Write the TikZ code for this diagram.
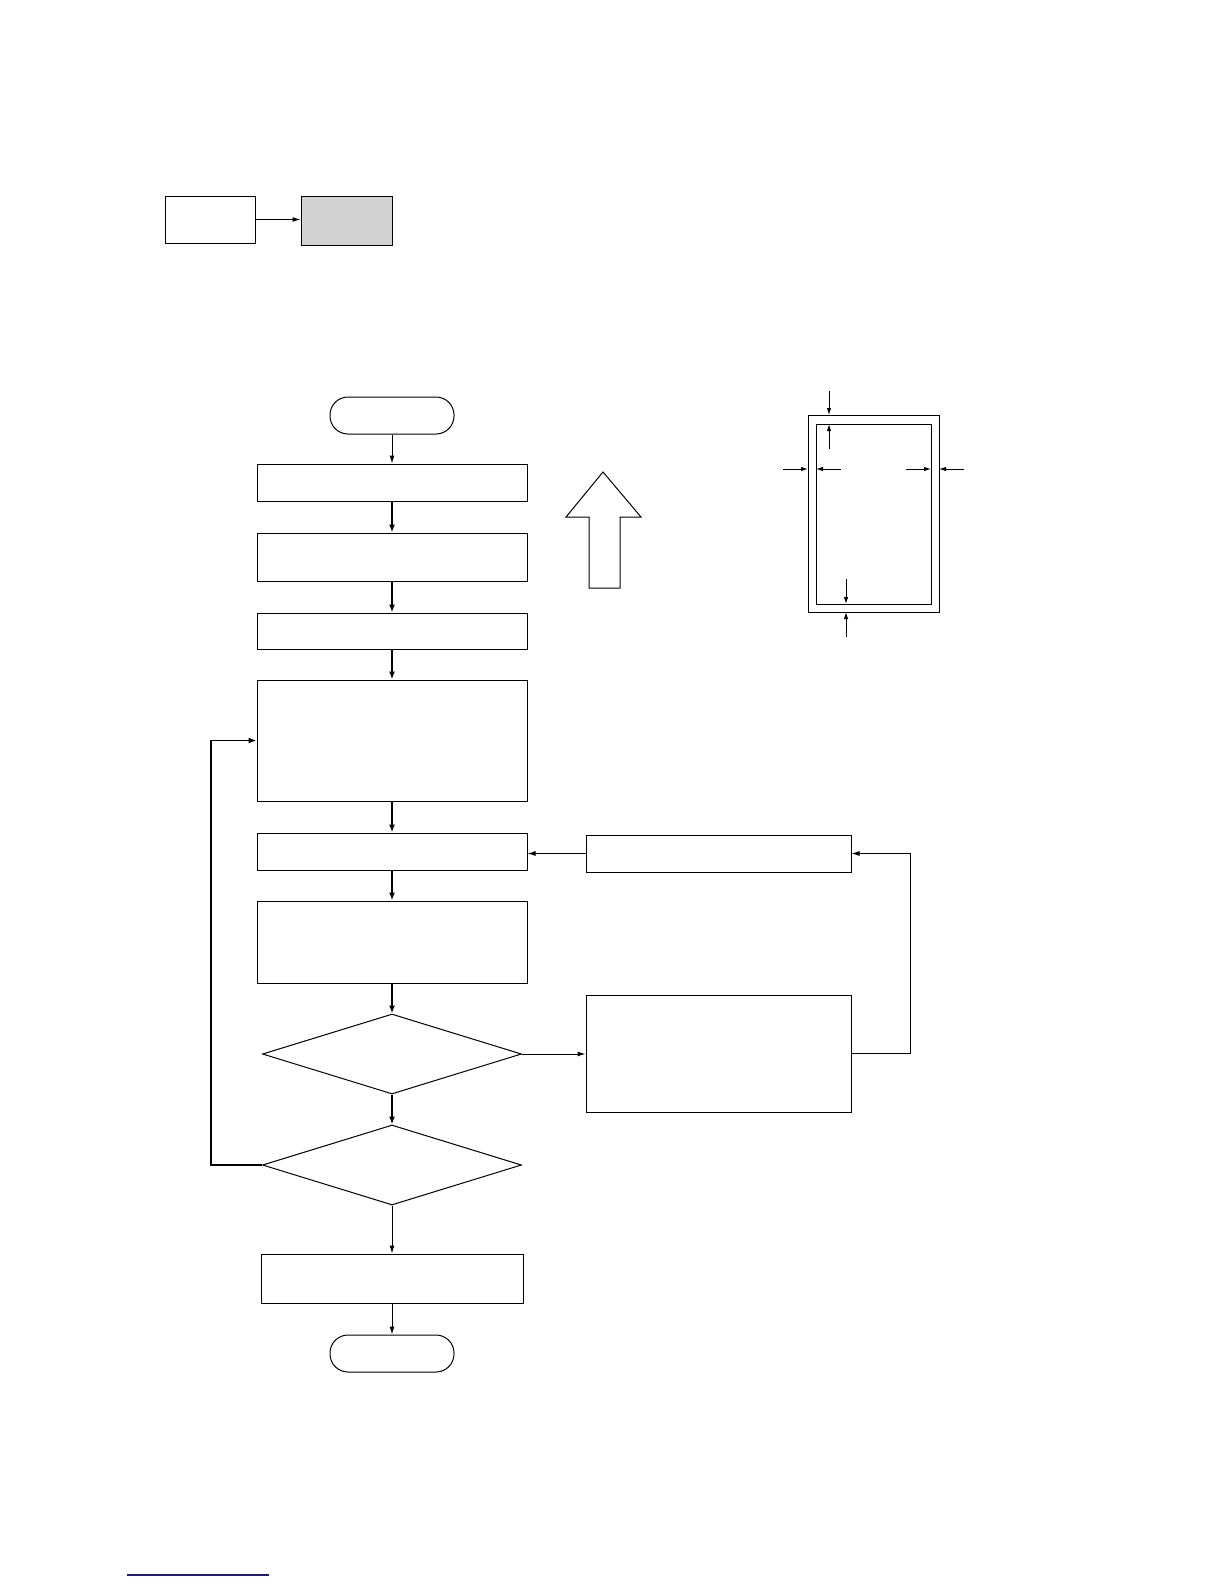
\documentclass[tikz,border=0pt]{standalone}
\usetikzlibrary{arrows.meta,shapes.geometric}
\begin{document}
\begin{tikzpicture}[x=1pt,y=-1pt,
  box/.style={draw,line width=1pt,rectangle,inner sep=0pt},
  term/.style={draw,line width=1pt,rectangle,rounded corners=18pt,inner sep=0pt,minimum width=124pt,minimum height=37pt},
  dia/.style={draw,line width=1pt,diamond,inner sep=0pt,aspect=3.24,minimum width=259pt,minimum height=80pt},
  arr/.style={line width=1pt,-{Latex[length=8pt,width=5pt]}},
  tarr/.style={line width=2pt,-{Latex[length=8pt,width=6pt]}},
  marr/.style={line width=1pt,-{Latex[length=7pt,width=4.5pt]}}]
\useasboundingbox (0,0) rectangle (1224,1584);
% top legend
\node[box,minimum width=90pt,minimum height=47pt] (tb1) at (210,219.5) {};
\node[box,fill={rgb,255:red,211;green,211;blue,211},minimum width=91pt,minimum height=49pt] (tb2) at (346.5,220.5) {};
\draw[arr] (tb1.east) -- (tb1.east -| tb2.west);
% main flow
\node[term] (start) at (392,415.5) {};
\node[box,minimum width=270pt,minimum height=37pt] (b1) at (392,482.5) {};
\node[box,minimum width=270pt,minimum height=48pt] (b2) at (392,557) {};
\node[box,minimum width=270pt,minimum height=36pt] (b3) at (392,631) {};
\node[box,minimum width=270pt,minimum height=121pt] (b4) at (392,740.5) {};
\node[box,minimum width=270pt,minimum height=37pt] (b5) at (392,851.5) {};
\node[box,minimum width=270pt,minimum height=82pt] (b6) at (392,942) {};
\node[dia] (d1) at (392,1054) {};
\node[dia] (d2) at (392,1165) {};
\node[box,minimum width=262pt,minimum height=49pt] (b7) at (392,1278.5) {};
\node[term] (stop) at (392,1353.5) {};
\node[box,minimum width=265pt,minimum height=37pt] (r1) at (718.5,853.5) {};
\node[box,minimum width=265pt,minimum height=117pt] (r2) at (718.5,1053.5) {};
\draw[arr] (start) -- (b1);
\draw[tarr] (b1) -- (b2);
\draw[tarr] (b2) -- (b3);
\draw[tarr] (b3) -- (b4);
\draw[tarr] (b4) -- (b5);
\draw[tarr] (b5) -- (b6);
\draw[tarr] (b6) -- (d1);
\draw[tarr] (d1) -- (d2);
\draw[arr] (d2) -- (b7);
\draw[arr] (b7) -- (stop);
\draw[arr] (d1.east) -- (d1.east -| r2.west);
\draw[arr] (r1.west) -- (r1.west -| b5.east);
\coordinate (lp) at (211,1165);
\draw[line width=1.6pt,-{Latex[length=8pt,width=6pt]}] (d2.west) -- (lp) |- (b4.west);
\coordinate (fb) at (910,1053.5);
\draw[arr] (r2.east) -- (fb) |- (r1.east);
% big hollow up arrow
\draw[line width=1pt,line join=miter] (603,472) -- (641,517) -- (620,517) -- (620,588) -- (589,588) -- (589,517) -- (566,517) -- cycle;
% paper margins diagram
\draw[line width=1pt] (808,415) rectangle (939,612);
\draw[line width=1pt] (816,424) rectangle (931,604);
\draw[marr] (829,391) -- (829,415);
\draw[marr] (829,449) -- (829,424);
\draw[marr] (783,469) -- (808,469);
\draw[marr] (841,469) -- (816,469);
\draw[marr] (906,469) -- (931,469);
\draw[marr] (964,469) -- (939,469);
\draw[marr] (846,579) -- (846,604);
\draw[marr] (846,637) -- (846,612);
% bottom line
\draw[line width=1.3pt,color={rgb,255:red,26;green,26;blue,128}] (127,1575) -- (269,1575);
\end{tikzpicture}
\end{document}
